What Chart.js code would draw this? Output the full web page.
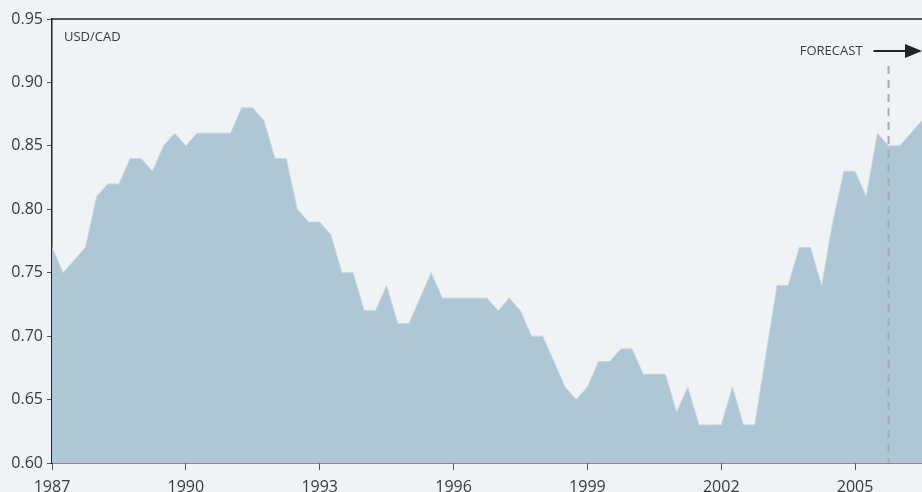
<!DOCTYPE html>
<html>
<head>
<meta charset="utf-8">
<script src="https://cdn.jsdelivr.net/npm/chart.js@4.4.1/dist/chart.umd.min.js"></script>
<style>
  html, body { margin: 0; padding: 0; background: #eff3f6; }
  #wrap { width: 922px; height: 492px; position: relative; }
</style>
</head>
<body>
<div id="wrap"><canvas id="fxChart"></canvas></div>
<script>
// quarterly USD/CAD, first quarter of 1987 to mid 2006
const startYear = 1987;
const rates = [
  0.77, 0.75, 0.76, 0.77, 0.81, 0.82, 0.82, 0.84, 0.84, 0.83,
  0.85, 0.86, 0.85, 0.86, 0.86, 0.86, 0.86, 0.88, 0.88, 0.87,
  0.84, 0.84, 0.80, 0.79, 0.79, 0.78, 0.75, 0.75, 0.72, 0.72,
  0.74, 0.71, 0.71, 0.73, 0.75, 0.73, 0.73, 0.73, 0.73, 0.73,
  0.72, 0.73, 0.72, 0.70, 0.70, 0.68, 0.66, 0.65, 0.66, 0.68,
  0.68, 0.69, 0.69, 0.67, 0.67, 0.67, 0.64, 0.66, 0.63, 0.63,
  0.63, 0.66, 0.63, 0.63, 0.685, 0.74, 0.74, 0.77, 0.77, 0.74,
  0.79, 0.83, 0.83, 0.81, 0.86, 0.85, 0.85, 0.86, 0.87
];
const yearTicks = [1987, 1990, 1993, 1996, 1999, 2002, 2005];
const rateTicks = [0.60, 0.65, 0.70, 0.75, 0.80, 0.85, 0.90, 0.95];
const forecastFrom = 2005.75;

const points = rates.map((v, i) => ({x: startYear + i / 4, y: v}));

const textColor = '#3a3a3a';
const axisColor = '#222';

const overlay = {
  id: 'overlay',
  afterDatasetsDraw(chart) {
    const {ctx, chartArea, scales} = chart;
    ctx.save();
    // top frame line
    ctx.strokeStyle = axisColor;
    ctx.lineWidth = 1.5;
    ctx.beginPath();
    ctx.moveTo(chartArea.left, chartArea.top);
    ctx.lineTo(chart.width, chartArea.top);
    ctx.stroke();

    // series name
    ctx.fillStyle = textColor;
    ctx.font = '13px "Open Sans"';
    ctx.textBaseline = 'middle';
    ctx.textAlign = 'left';
    ctx.fillText('USD/CAD', chartArea.left + 12, chartArea.top + 18);

    // forecast marker
    const fx = scales.x.getPixelForValue(forecastFrom);
    ctx.strokeStyle = '#a9abad';
    ctx.lineWidth = 2;
    ctx.setLineDash([8, 6]);
    ctx.beginPath();
    ctx.moveTo(fx, chartArea.top + 47);
    ctx.lineTo(fx, chartArea.bottom);
    ctx.stroke();
    ctx.setLineDash([]);

    const ay = chartArea.top + 32;
    ctx.textAlign = 'right';
    ctx.fillText('FORECAST', fx - 26, ay);
    ctx.strokeStyle = axisColor;
    ctx.lineWidth = 2;
    ctx.beginPath();
    ctx.moveTo(fx - 15, ay);
    ctx.lineTo(chart.width - 12, ay);
    ctx.stroke();
    ctx.fillStyle = axisColor;
    ctx.beginPath();
    ctx.moveTo(chart.width, ay);
    ctx.lineTo(chart.width - 17, ay - 7);
    ctx.lineTo(chart.width - 17, ay + 7);
    ctx.closePath();
    ctx.fill();
    ctx.restore();
  }
};

new Chart(document.getElementById('fxChart'), {
  type: 'line',
  data: {
    datasets: [{
      data: points,
      fill: 'start',
      backgroundColor: '#afc7d4',
      borderColor: '#c9d7df',
      borderWidth: 1,
      pointRadius: 0,
      tension: 0
    }]
  },
  options: {
    responsive: true,
    maintainAspectRatio: false,
    animation: false,
    layout: { padding: { top: 19, right: 0, left: 0, bottom: 0 } },
    plugins: { legend: { display: false }, tooltip: { enabled: false } },
    scales: {
      x: {
        type: 'linear',
        min: startYear,
        max: startYear + (rates.length - 1) / 4,
        afterBuildTicks: s => { s.ticks = yearTicks.map(v => ({value: v})); },
        afterFit: s => { s.height = 29; },
        border: { display: true, color: axisColor, width: 1.5 },
        grid: { drawOnChartArea: false, drawTicks: true, tickLength: 7, color: '#555', lineWidth: 1 },
        ticks: {
          color: textColor,
          padding: 8,
          maxRotation: 0,
          font: { family: 'Open Sans', size: 16 },
          callback: v => String(v)
        }
      },
      y: {
        min: 0.60,
        max: 0.95,
        afterBuildTicks: s => { s.ticks = rateTicks.map(v => ({value: v})); },
        afterFit: s => { s.width = 52; },
        border: { display: true, color: axisColor, width: 1.5 },
        grid: { drawOnChartArea: false, drawTicks: true, tickLength: 5, color: '#555', lineWidth: 1 },
        ticks: {
          color: textColor,
          padding: 4,
          font: { family: 'Open Sans', size: 16 },
          callback: v => v.toFixed(2)
        }
      }
    }
  },
  plugins: [overlay]
});
</script>
</body>
</html>
